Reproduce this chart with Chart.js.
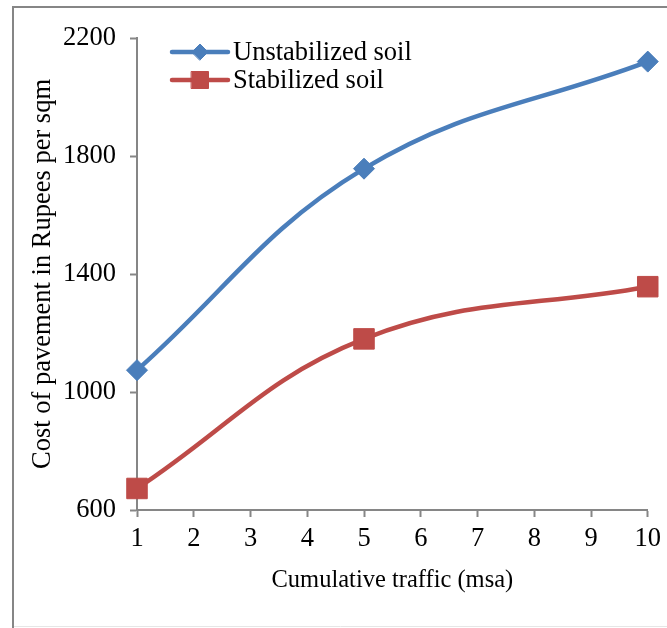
<!DOCTYPE html>
<html>
<head>
<meta charset="utf-8">
<script src="https://cdn.jsdelivr.net/npm/chart.js@4"></script>
<style>
  html, body { margin: 0; padding: 0; background: #fff; }
  #wrap { width: 667px; height: 628px; }
</style>
</head>
<body>
<div id="wrap"><canvas id="myChart" width="667" height="628"></canvas></div>
<script>
// datos
const traffic = [1, 5, 10];
const unstabilized = [1074, 1757, 2120];
const stabilized = [673, 1180, 1357];
const seriesNames = ['Unstabilized soil', 'Stabilized soil'];
const yTicks = [600, 1000, 1400, 1800, 2200];

const FONT = "'Liberation Serif', 'Times New Roman', serif";
const AXIS_GRAY = '#868686';

// marco exterior del grafico
const framePlugin = {
    id: 'frame',
    beforeDraw(chart) {
        const ctx = chart.ctx;
        ctx.save();
        ctx.fillStyle = '#fff';
        ctx.fillRect(0, 0, chart.width, chart.height);
        ctx.strokeStyle = AXIS_GRAY;
        ctx.lineWidth = 2;
        ctx.beginPath();
        ctx.moveTo(chart.width, 7);
        ctx.lineTo(13, 7);
        ctx.lineTo(13, chart.height);
        ctx.stroke();
        ctx.strokeStyle = '#e6e6e6';
        ctx.lineWidth = 1;
        ctx.beginPath();
        ctx.moveTo(14, chart.height - 1.5);
        ctx.lineTo(chart.width, chart.height - 1.5);
        ctx.stroke();
        ctx.restore();
    }
};

// leyenda tipo Excel: linea + marcador + texto
const lineLegendPlugin = {
    id: 'lineLegend',
    afterDraw(chart) {
        const ctx = chart.ctx;
        const area = chart.chartArea;
        const x0 = area.left + 35;
        const x1 = area.left + 91;
        const cx = (x0 + x1) / 2;
        ctx.save();
        chart.data.datasets.forEach((ds, i) => {
            const y = area.top + 14 + i * 28;
            ctx.strokeStyle = ds.borderColor;
            ctx.lineWidth = ds.borderWidth;
            ctx.lineCap = 'round';
            ctx.beginPath();
            ctx.moveTo(x0, y);
            ctx.lineTo(x1, y);
            ctx.stroke();
            ctx.fillStyle = ds.pointBackgroundColor;
            ctx.strokeStyle = ds.pointBorderColor;
            ctx.lineWidth = 1;
            ctx.beginPath();
            if (ds.pointStyle === 'rect') {
                const h = 8.5;
                ctx.rect(cx - h, y - h, 2 * h, 2 * h);
            } else {
                const r = 8;
                ctx.moveTo(cx - r, y);
                ctx.lineTo(cx, y - r);
                ctx.lineTo(cx + r, y);
                ctx.lineTo(cx, y + r);
                ctx.closePath();
            }
            ctx.fill();
            ctx.stroke();
            ctx.fillStyle = '#000';
            ctx.font = '26.5px ' + FONT;
            ctx.textBaseline = 'middle';
            ctx.textAlign = 'left';
            ctx.fillText(ds.label, x1 + 5, y + 1);
        });
        ctx.restore();
    }
};

const ctx = document.getElementById('myChart').getContext('2d');
const myChartInstance = new Chart(ctx, {
    type: 'line',
    data: {
        datasets: [{
            label: seriesNames[0],
            data: traffic.map((t, i) => ({ x: t, y: unstabilized[i] })),
            borderColor: '#4a7ebb',
            backgroundColor: '#4a7ebb',
            borderWidth: 4.5,
            tension: 0.4,
            clip: false,
            pointStyle: 'rectRot',
            pointRadius: 10.5,
            pointBackgroundColor: '#4a7ebb',
            pointBorderColor: '#4a7ebb',
            pointBorderWidth: 1
        }, {
            label: seriesNames[1],
            data: traffic.map((t, i) => ({ x: t, y: stabilized[i] })),
            borderColor: '#be4b48',
            backgroundColor: '#be4b48',
            borderWidth: 4.5,
            tension: 0.4,
            clip: false,
            pointStyle: 'rect',
            pointRadius: 14.5,
            pointBackgroundColor: '#be4b48',
            pointBorderColor: '#be4b48',
            pointBorderWidth: 1
        }]
    },
    options: {
        responsive: false,
        animation: false,
        layout: { padding: { left: 0, top: 38, right: 18, bottom: 0 } },
        plugins: {
            legend: { display: false },
            tooltip: { enabled: false }
        },
        scales: {
            x: {
                type: 'linear',
                min: 1,
                max: 10,
                afterFit: scale => { scale.height = 118; },
                border: { color: AXIS_GRAY, width: 2 },
                grid: { drawOnChartArea: false, drawTicks: true, tickLength: 7, color: AXIS_GRAY, tickWidth: 2 },
                ticks: { stepSize: 1, color: '#000', padding: 6, font: { family: FONT, size: 26.5 } },
                title: {
                    display: true,
                    text: 'Cumulative traffic (msa)',
                    color: '#000',
                    font: { family: FONT, size: 24.5 },
                    padding: { top: 0, bottom: 33 }
                }
            },
            y: {
                min: 600,
                max: 2200,
                afterFit: scale => { scale.width = 137; },
                afterBuildTicks: scale => { scale.ticks = yTicks.map(v => ({ value: v })); },
                border: { color: AXIS_GRAY, width: 2 },
                grid: { drawOnChartArea: false, drawTicks: true, tickLength: 7, color: AXIS_GRAY, tickWidth: 2 },
                ticks: {
                    color: '#000',
                    padding: 14,
                    font: { family: FONT, size: 26.5 },
                    callback: value => String(value)
                },
                title: {
                    display: true,
                    text: 'Cost of pavement in Rupees per sqm',
                    color: '#000',
                    font: { family: FONT, size: 26.5 },
                    padding: { top: 27, bottom: 0 }
                }
            }
        }
    },
    plugins: [framePlugin, lineLegendPlugin]
});
</script>
</body>
</html>
